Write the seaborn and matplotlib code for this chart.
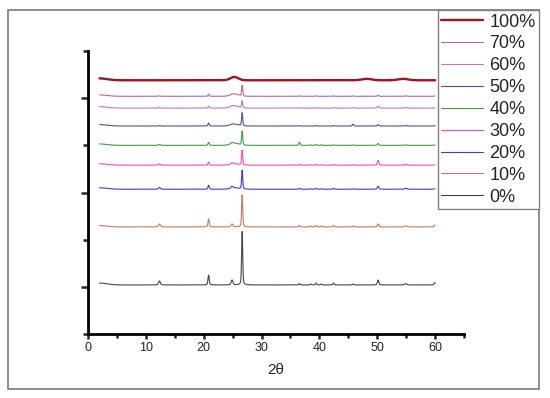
import numpy as np
import pandas as pd
import matplotlib
matplotlib.use("Agg")
import matplotlib.pyplot as plt
from matplotlib.patches import Rectangle
from matplotlib.ticker import FixedLocator
import seaborn as sns

# ---- data -------------------------------------------------------------------
labels = ["100%", "70%", "60%", "50%", "40%", "30%", "20%", "10%", "0%"]
colors = ["#A3121F", "#C062A2", "#B474E0", "#4F4FA0", "#3E9E42",
          "#FF44C8", "#3B3BD6", "#C87860", "#454545"]
baselines = [5.38, 5.04, 4.79, 4.41, 4.00, 3.58, 3.07, 2.27, 1.04]

peak_pos = [12.35, 20.85, 24.9, 26.65, 36.55, 38.5, 39.45, 40.3, 42.45,
            45.8, 50.15, 54.9, 59.95]
peak_fwhm = [0.35, 0.25, 0.35, 0.22, 0.25, 0.25, 0.25, 0.25, 0.25,
             0.25, 0.3, 0.4, 0.25]

h_100 = [0, 0, 0, 0, 0, 0, 0, 0, 0, 0, 0, 0, 0]
h_70 = [0.01, 0.045, 0.01, 0.23, 0.01, 0, 0.01, 0, 0.01, 0.01, 0.02, 0.01, 0.01]
h_60 = [0.01, 0.04, 0.01, 0.15, 0.01, 0, 0.01, 0, 0.01, 0.01, 0.04, 0.01, 0.01]
h_50 = [0.01, 0.065, 0.01, 0.28, 0.01, 0, 0.01, 0, 0.01, 0.04, 0.03, 0.01, 0.01]
h_40 = [0.02, 0.065, 0.02, 0.30, 0.065, 0.01, 0.02, 0.01, 0.01, 0.01, 0.04, 0.01, 0.01]
h_30 = [0.03, 0.065, 0.03, 0.32, 0.02, 0.01, 0.02, 0.01, 0.01, 0.01, 0.105, 0.02, 0.01]
h_20 = [0.04, 0.085, 0.04, 0.40, 0.02, 0.01, 0.02, 0.01, 0.02, 0.01, 0.065, 0.02, 0.01]
h_10 = [0.065, 0.17, 0.065, 0.68, 0.03, 0.02, 0.03, 0.02, 0.03, 0.02, 0.065, 0.02, 0.04]
h_0 = [0.085, 0.21, 0.105, 1.14, 0.03, 0.02, 0.04, 0.02, 0.04, 0.02, 0.105, 0.03, 0.05]
heights = [h_100, h_70, h_60, h_50, h_40, h_30, h_20, h_10, h_0]

# broad amorphous humps (position, fwhm) and their heights per sample
hump_pos = [25.3, 48.2, 54.5]
hump_fwhm = [1.6, 2.0, 2.0]
hump_100 = [0.07, 0.03, 0.03]
hump_70 = [0.05, 0, 0]
hump_60 = [0.05, 0, 0]
hump_50 = [0.04, 0, 0]
hump_40 = [0.05, 0, 0]
hump_30 = [0.03, 0, 0]
hump_20 = [0.03, 0, 0]
hump_10 = [0, 0, 0]
hump_0 = [0, 0, 0]
humps = [hump_100, hump_70, hump_60, hump_50, hump_40, hump_30, hump_20,
         hump_10, hump_0]
low_angle_rise = [0.04, 0.03, 0.03, 0.03, 0.03, 0.03, 0.03, 0.03, 0.04]

two_theta = np.arange(2.0, 60.001, 0.02)


def _peak(x, pos, fwhm):
    # pseudo-Voigt, mostly gaussian
    g = np.exp(-4 * np.log(2) * ((x - pos) / fwhm) ** 2)
    l = 1.0 / (1.0 + 4 * ((x - pos) / fwhm) ** 2)
    return 0.6 * g + 0.4 * l


frames = []
for lab, base, hs, hm, rise in zip(labels, baselines, heights, humps, low_angle_rise):
    y = np.full_like(two_theta, base)
    for p, w, h in zip(peak_pos, peak_fwhm, hs):
        y += h * _peak(two_theta, p, w)
    for p, w, h in zip(hump_pos, hump_fwhm, hm):
        y += h * np.exp(-4 * np.log(2) * ((two_theta - p) / w) ** 2)
    y += rise * np.exp(-((two_theta - 2.0) / 1.8) ** 2)
    frames.append(pd.DataFrame({"two_theta": two_theta, "intensity": y,
                                "sample": lab}))
df = pd.concat(frames, ignore_index=True)

# ---- figure -------------------------------------------------------------------
sns.set_style("ticks")
plt.rcParams["font.family"] = ["Liberation Sans", "DejaVu Sans"]

fig = plt.figure(figsize=(5.5, 3.98), dpi=100)
ax = fig.add_axes([0.16, 0.1608, 0.6836, 0.711])

handles = []
for lab, col in zip(labels, colors):
    lw = 1.7 if lab == "100%" else 0.8
    sns.lineplot(data=df[df["sample"] == lab], x="two_theta", y="intensity",
                 color=col, lw=lw, estimator=None, sort=False, ax=ax)
    handles.append(ax.lines[-1])
if ax.get_legend() is not None:
    ax.get_legend().remove()

ax.set_xlim(0, 65)
ax.set_ylim(0, 6)
ax.set_xticks(range(0, 61, 10))
ax.xaxis.set_minor_locator(FixedLocator([5, 15, 25, 35, 45, 55, 65]))
ax.set_yticks([1, 3, 5])
ax.yaxis.set_minor_locator(FixedLocator([0, 2, 4, 6]))
ax.set_yticklabels([])
ax.tick_params(axis="x", which="major", length=3.5, width=1.8, labelsize=9,
               pad=2)
ax.tick_params(axis="x", which="minor", length=3, width=1.8)
ax.tick_params(axis="y", which="major", length=5, width=1.8)
ax.tick_params(axis="y", which="minor", length=3.5, width=1.8)
for s in ["top", "right"]:
    ax.spines[s].set_visible(False)
for s in ["left", "bottom"]:
    ax.spines[s].set_linewidth(2)
    ax.spines[s].set_color("black")
ax.set_xlabel("2θ", fontsize=11, labelpad=7)
ax.set_ylabel("")

# outer frame of the picture
fig.patches.append(Rectangle((8 / 550, 9 / 398), 531 / 550, 379 / 398,
                             transform=fig.transFigure, fill=False,
                             edgecolor="#7a7a7a", lw=1.2))

leg = fig.legend(handles, labels, loc="upper right",
                 bbox_to_anchor=(539 / 550, 388 / 398), fontsize=13,
                 frameon=True, fancybox=False, framealpha=1, borderpad=0.2,
                 labelspacing=0.27, handlelength=2.3, handletextpad=0.35,
                 borderaxespad=0)
leg.get_frame().set_edgecolor("#808080")
leg.get_frame().set_linewidth(1.0)

fig.savefig("out.png", dpi=100)
